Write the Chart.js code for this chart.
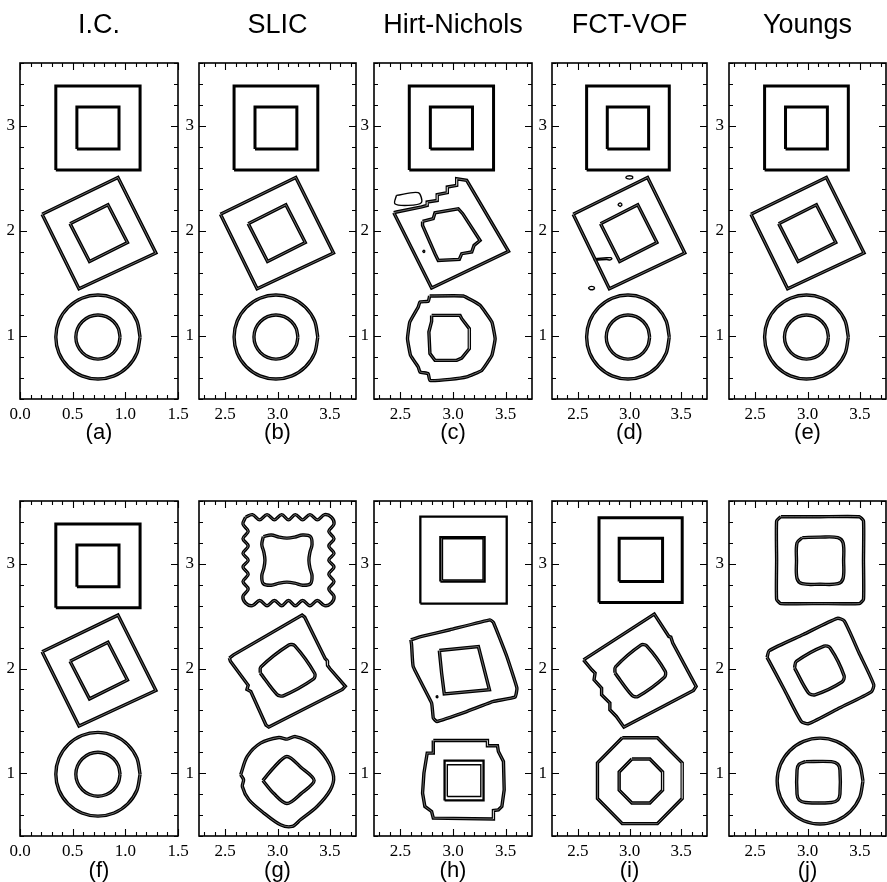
<!DOCTYPE html>
<html><head><meta charset="utf-8">
<script src="https://cdn.jsdelivr.net/npm/chart.js@4/dist/chart.umd.min.js"></script>
<style>
html,body{margin:0;padding:0;background:#fff;overflow:hidden;width:887px;height:882px;}
#wrap{position:relative;width:887px;height:882px;overflow:hidden;}
canvas{position:absolute;}
</style></head><body><div id="wrap"></div>
<script>
// ---------- text ----------
const methodTitles = ['I.C.', 'SLIC', 'Hirt-Nichols', 'FCT-VOF', 'Youngs'];
const panelLetters = ['(a)','(b)','(c)','(d)','(e)','(f)','(g)','(h)','(i)','(j)'];
// ---------- axes ----------
const xTickLabelsLeft = [0.0, 0.5, 1.0, 1.5];
const xTickLabelsRight = [2.5, 3.0, 3.5];
const yTickLabels = [1, 2, 3];
const xRangeLeft = [0, 1.5];
const xRangeRight = [2.25, 3.75];
const yRange = [0.4, 3.6];

// ---------- initial condition shapes (x = offset from column centre, y absolute) ----------
const icCentreX = [0.74, 2.985, 2.985, 2.985, 2.99, 0.74]; // panels a..f
const icSquareOuter = [[-0.40,2.58],[0.40,2.58],[0.40,3.38],[-0.40,3.38]];
const icSquareInner = [[-0.20,2.78],[0.20,2.78],[0.20,3.18],[-0.20,3.18]];
const icTiltOuter = [[-0.53,2.16],[0.19,2.51],[0.55,1.79],[-0.18,1.45]];
const icTiltInner = [[-0.265,2.07],[0.095,2.25],[0.28,1.89],[-0.08,1.71]];
const icRingOuter = [[0.40,0.99],[0.37,1.143],[0.283,1.273],[0.153,1.36],[0,1.39],[-0.153,1.36],[-0.283,1.273],[-0.37,1.143],[-0.40,0.99],[-0.37,0.837],[-0.283,0.707],[-0.153,0.62],[0,0.59],[0.153,0.62],[0.283,0.707],[0.37,0.837]];
const icRingInner = [[0.21,0.99],[0.194,1.07],[0.148,1.138],[0.08,1.184],[0,1.20],[-0.08,1.184],[-0.148,1.138],[-0.194,1.07],[-0.21,0.99],[-0.194,0.91],[-0.148,0.842],[-0.08,0.796],[0,0.78],[0.08,0.796],[0.148,0.842],[0.194,0.91]];

// ---------- (c) Hirt-Nichols, first time ----------
const hnTiltOuter = [[2.438,2.174],[2.797,1.457],[3.527,1.806],[3.130,2.482],[3.035,2.498],[3.035,2.434],[2.946,2.419],[2.946,2.365],[2.850,2.346],[2.850,2.291],[2.755,2.276],[2.755,2.244],[2.702,2.229],[2.464,2.181]];
const hnTiltLoop = [[2.463,2.339],[2.67,2.365],[2.70,2.27],[2.574,2.244],[2.448,2.26]];
const hnTiltInner = [[2.711,2.091],[2.812,2.117],[2.829,2.174],[3.050,2.212],[3.092,2.165],[3.257,1.910],[3.200,1.863],[3.178,1.800],[3.083,1.784],[3.060,1.730],[2.860,1.720],[2.829,1.784],[2.711,2.053]];
const hnTiltDot = [[2.735,1.806],[2.724,1.817],[2.713,1.806],[2.724,1.795]];
const hnRingOuter = [[2.778,1.381],[3.098,1.381],[3.257,1.292],[3.369,1.133],[3.40,0.974],[3.369,0.815],[3.273,0.672],[3.13,0.61],[2.971,0.587],[2.78,0.577],[2.765,0.641],[2.686,0.657],[2.67,0.705],[2.597,0.815],[2.568,0.974],[2.59,1.133],[2.67,1.276],[2.686,1.324],[2.765,1.33]];
const hnRingInner = [[2.797,1.196],[3.067,1.196],[3.083,1.165],[3.155,1.07],[3.155,0.879],[3.083,0.79],[3.035,0.768],[2.829,0.768],[2.781,0.832],[2.771,1.038],[2.797,1.139]];

// ---------- (d) FCT-VOF, first time: extra debris ----------
const fctBlobTop = [[3.035,2.51],[3.022,2.522],[3.0,2.526],[2.978,2.522],[2.965,2.51],[2.978,2.498],[3.0,2.494],[3.022,2.498]];
const fctBlobLow = [[2.664,1.457],[2.652,1.469],[2.634,1.473],[2.616,1.469],[2.604,1.457],[2.616,1.445],[2.634,1.441],[2.652,1.445]];
const fctKnot = [[2.93,2.25],[2.91,2.268],[2.89,2.25],[2.91,2.234]];
const fctFilament = [[2.66,1.736],[2.78,1.745],[2.82,1.746],[2.83,1.735],[2.81,1.724],[2.78,1.728],[2.66,1.724]];

// ---------- (g) SLIC, second time ----------
const slicSquareOuter = [[2.695,3.445],[2.76,3.47],[2.83,3.42],[2.90,3.47],[2.97,3.42],[3.04,3.47],[3.105,3.42],[3.17,3.47],[3.24,3.42],[3.31,3.47],[3.38,3.42],[3.45,3.47],
 [3.515,3.445],[3.54,3.38],[3.49,3.31],[3.54,3.24],[3.49,3.17],[3.54,3.10],[3.49,3.035],[3.54,2.97],[3.49,2.90],[3.54,2.83],[3.49,2.76],[3.54,2.69],
 [3.515,2.625],[3.45,2.60],[3.38,2.65],[3.31,2.60],[3.24,2.65],[3.17,2.60],[3.105,2.65],[3.04,2.60],[2.97,2.65],[2.90,2.60],[2.83,2.65],[2.76,2.60],
 [2.695,2.625],[2.67,2.69],[2.72,2.76],[2.67,2.83],[2.72,2.90],[2.67,2.97],[2.72,3.035],[2.67,3.10],[2.72,3.17],[2.67,3.24],[2.72,3.31],[2.67,3.38]];
const slicSquareInner = [[2.865,3.26],[2.94,3.275],[3.015,3.255],[3.09,3.245],[3.165,3.255],[3.24,3.275],
 [3.315,3.26],[3.33,3.185],[3.31,3.11],[3.30,3.035],[3.31,2.96],[3.33,2.885],
 [3.315,2.81],[3.24,2.795],[3.165,2.815],[3.09,2.825],[3.015,2.815],[2.94,2.795],
 [2.865,2.81],[2.85,2.885],[2.87,2.96],[2.88,3.035],[2.87,3.11],[2.85,3.185]];
const slicTiltOuter = [[2.54,2.10],[2.58,2.13],[3.235,2.51],[3.26,2.49],[3.455,2.095],[3.475,2.075],[3.478,2.03],[3.50,2.00],[3.648,1.83],[3.62,1.80],[2.917,1.44],[2.89,1.46],[2.745,1.78],[2.708,1.80],[2.72,1.84],[2.55,2.07]];
const slicTiltInner = [[2.835,1.958],[2.841,2.015],[3.109,2.225],[3.164,2.218],[3.356,1.952],[3.345,1.901],[3.055,1.739],[2.995,1.752]];
const slicRingOuter = [[2.648,0.985],[2.711,1.16],[2.838,1.287],[3.013,1.341],[3.092,1.325],[3.171,1.35],[3.346,1.271],[3.473,1.128],[3.536,0.968],[3.505,0.841],[3.378,0.682],[3.219,0.555],[3.14,0.491],[3.029,0.507],[2.87,0.619],[2.727,0.746],[2.664,0.873],[2.676,0.937]];
const slicRingInner = [[2.86,0.93],[2.965,1.055],[3.09,1.16],[3.225,1.055],[3.35,0.93],[3.225,0.805],[3.09,0.71],[2.965,0.805]];

// ---------- (h) Hirt-Nichols, second time ----------
const hn2SquareOuter = [[2.69,2.62],[3.51,2.62],[3.51,3.45],[2.69,3.45]];
const hn2SquareInner = [[2.88,2.83],[3.30,2.83],[3.30,3.255],[2.88,3.255]];
const hn2SquareInner2 = [[2.90,2.845],[3.285,2.845],[3.285,3.24],[2.90,3.24]];
const hn2TiltOuter = [[2.60,2.274],[2.702,2.306],[2.971,2.37],[3.352,2.465],[3.384,2.44],[3.511,2.115],[3.607,1.813],[3.59,1.727],[3.384,1.685],[3.13,1.589],[2.845,1.494],[2.813,1.526],[2.797,1.67],[2.622,2.019],[2.607,2.226]];
const hn2TiltInner = [[2.870,2.172],[3.241,2.21],[3.346,1.797],[2.917,1.758],[2.892,1.956]];
const hn2Dot = [[2.86,1.73],[2.85,1.74],[2.84,1.73],[2.85,1.72]];
const hn2RingOuter = [[2.813,1.312],[3.327,1.312],[3.327,1.262],[3.422,1.262],[3.431,1.207],[3.479,1.112],[3.486,0.841],[3.464,0.682],[3.431,0.650],[3.384,0.644],[3.384,0.562],[2.813,0.571],[2.797,0.634],[2.733,0.682],[2.711,0.81],[2.724,1.001],[2.755,1.192],[2.813,1.192]];
const hn2RingInner = [[2.92,0.74],[3.29,0.74],[3.29,1.12],[2.92,1.12]];
const hn2RingInner2 = [[2.946,0.778],[3.264,0.778],[3.264,1.08],[2.946,1.08]];

// ---------- (i) FCT-VOF, second time ----------
const fct2SquareOuter = [[2.705,2.63],[3.51,2.63],[3.51,3.44],[2.705,3.44]];
const fct2SquareInner = [[2.90,2.83],[3.32,2.83],[3.32,3.245],[2.90,3.245]];
const fct2TiltOuter = [[2.555,2.083],[3.24,2.52],[3.381,2.306],[3.40,2.30],[3.419,2.243],[3.645,1.828],[3.619,1.79],[2.946,1.44],[2.873,1.542],[2.81,1.606],[2.81,1.67],[2.73,1.749],[2.73,1.813],[2.657,1.892],[2.667,1.956],[2.635,1.988]];
const fct2TiltInner = [[2.859,1.958],[2.865,2.016],[3.110,2.224],[3.164,2.218],[3.346,1.972],[3.338,1.917],[3.082,1.733],[3.026,1.742]];
const fct2RingOuter = [[2.93,1.338],[3.27,1.338],[3.51,1.098],[3.51,0.758],[3.27,0.518],[2.93,0.518],[2.69,0.758],[2.69,1.098]];
const fct2RingInner = [[3.023,1.135],[3.197,1.135],[3.32,1.012],[3.32,0.838],[3.197,0.715],[3.023,0.715],[2.90,0.838],[2.90,1.012]];

// ---------- (j) Youngs, second time ----------
const yg2SquareOuter = [[2.745,3.45],[3.12,3.45],[3.495,3.45],[3.535,3.41],[3.535,3.035],[3.535,2.66],[3.495,2.62],[3.12,2.62],[2.745,2.62],[2.705,2.66],[2.705,3.035],[2.705,3.41]];
const yg2SquareInner = [[2.95,3.25],[3.12,3.255],[3.29,3.25],[3.34,3.20],[3.345,3.03],[3.34,2.86],[3.29,2.81],[3.12,2.805],[2.95,2.81],[2.90,2.86],[2.895,3.03],[2.90,3.20]];
const yg2TiltOuter = [[2.614,2.106],[2.635,2.171],[2.96,2.325],[3.285,2.479],[3.351,2.455],[3.492,2.15],[3.633,1.845],[3.609,1.777],[3.31,1.625],[3.010,1.473],[2.941,1.494],[2.778,1.80]];
const yg2TiltInner = [[2.876,2.006],[2.893,2.067],[3.158,2.214],[3.217,2.196],[3.350,1.930],[3.329,1.871],[3.071,1.749],[3.008,1.769]];
const yg2RingOuter = [[3.53,0.925],[3.499,1.082],[3.41,1.215],[3.277,1.304],[3.12,1.335],[2.963,1.304],[2.83,1.215],[2.741,1.082],[2.71,0.925],[2.741,0.768],[2.83,0.635],[2.963,0.546],[3.12,0.515],[3.277,0.546],[3.41,0.635],[3.499,0.768]];
const yg2RingInner = [[2.98,1.11],[3.23,1.11],[3.29,1.085],[3.31,1.03],[3.31,0.80],[3.29,0.745],[3.23,0.72],[2.98,0.72],[2.92,0.745],[2.90,0.80],[2.90,1.03],[2.92,1.085]];

// ---------- assemble ----------
function shift(shape, cx){ return shape.map(p => [cx + p[0], p[1]]); }
function icSet(cx){
  return [
    [shift(icSquareOuter,cx),'solid',0],
    [shift(icSquareInner,cx),'solid',0],
    [shift(icTiltOuter,cx),'double',0],
    [shift(icTiltInner,cx),'double',0],
    [shift(icRingOuter,cx),'double',0.3],
    [shift(icRingInner,cx),'double',0.3]
  ];
}
const panelContours = [
  icSet(icCentreX[0]),
  icSet(icCentreX[1]),
  [[shift(icSquareOuter,icCentreX[2]),'solid',0],[shift(icSquareInner,icCentreX[2]),'solid',0],
   [hnTiltOuter,'double',0],[hnTiltLoop,'thin',0.3],[hnTiltInner,'double',0],[hnTiltDot,'thin',0.3],
   [hnRingOuter,'double',0.1],[hnRingInner,'double',0]],
  icSet(icCentreX[3]).concat([[fctBlobTop,'thin',0.3],[fctBlobLow,'thin',0.3],[fctKnot,'thin',0.3],[fctFilament,'thin',0.2]]),
  icSet(icCentreX[4]),
  icSet(icCentreX[5]),
  [[slicSquareOuter,'double',0.35],[slicSquareInner,'double',0.35],[slicTiltOuter,'double',0],[slicTiltInner,'double',0.3],
   [slicRingOuter,'double',0.3],[slicRingInner,'double',0.3]],
  [[hn2SquareOuter,'medium',0],[hn2SquareInner,'medium',0],[hn2SquareInner2,'thin',0],[hn2TiltOuter,'double',0.1],
   [hn2TiltInner,'double',0],[hn2Dot,'thin',0.3],[hn2RingOuter,'double',0],[hn2RingInner,'medium',0],[hn2RingInner2,'thin',0]],
  [[fct2SquareOuter,'solid',0],[fct2SquareInner,'solid',0],[fct2TiltOuter,'double',0],[fct2TiltInner,'double',0.3],
   [fct2RingOuter,'double',0],[fct2RingInner,'double',0]],
  [[yg2SquareOuter,'double',0.15],[yg2SquareInner,'double',0.35],[yg2TiltOuter,'double',0.2],[yg2TiltInner,'double',0.3],
   [yg2RingOuter,'double',0.3],[yg2RingInner,'double',0.3]]
];

// ---------- layout (pixels) ----------
const plotLeft = [20,199,374,552,729];
const plotWidth = [158,157,158,155,157];
const sideW = 22;

const frameTicks = {
  id:'frameTicks',
  afterDraw(chart){
    const {ctx, chartArea:a, scales:{x,y}} = chart;
    ctx.save();
    ctx.strokeStyle='#000';
    ctx.lineWidth=1.6;
    ctx.strokeRect(a.left, a.top, a.right-a.left, a.bottom-a.top);
    ctx.lineWidth=1.1;
    ctx.beginPath();
    for (let k=Math.ceil(x.min*10-1e-6); k<=Math.floor(x.max*10+1e-6); k++){
      const px = Math.round(x.getPixelForValue(k/10))+0.5;
      const len = (k%5===0)?7:4;
      ctx.moveTo(px,a.bottom); ctx.lineTo(px,a.bottom-len);
      ctx.moveTo(px,a.top); ctx.lineTo(px,a.top+len);
    }
    for (let k=Math.ceil(y.min*5-1e-6); k<=Math.floor(y.max*5+1e-6); k++){
      const py = Math.round(y.getPixelForValue(k/5))+0.5;
      const len = (k%5===0)?7:4;
      ctx.moveTo(a.left,py); ctx.lineTo(a.left+len,py);
      ctx.moveTo(a.right,py); ctx.lineTo(a.right-len,py);
    }
    ctx.stroke();
    ctx.restore();
  }
};

const sans = '"Liberation Sans", Arial, Helvetica, sans-serif';
const serif = '"Liberation Serif", "Times New Roman", serif';

const wrap = document.getElementById('wrap');
for (let i=0;i<10;i++){
  const row = Math.floor(i/5), col = i%5;
  const leftCol = (col===0);
  const cv = document.createElement('canvas');
  const w = sideW + plotWidth[col] + sideW;
  const h = row===0 ? 450 : 432;
  cv.width = w; cv.height = h;
  cv.style.left = (plotLeft[col]-sideW)+'px';
  cv.style.top = (row===0 ? 0 : 450)+'px';
  cv.style.width = w+'px'; cv.style.height = h+'px';
  wrap.appendChild(cv);

  const datasets = [];
  panelContours[i].forEach(([pts, style, tension]) => {
    const data = pts.concat([pts[0]]).map(p => ({x:p[0], y:p[1]}));
    const bw = style==='thin' ? 1.4 : (style==='medium' ? 2.3 : (style==='double' ? 3.4 : 3.0));
    datasets.push({data, showLine:true, pointRadius:0, borderColor:'#000', borderWidth:bw, tension, fill:false, order:2});
    if (style==='double'){
      datasets.push({data, showLine:true, pointRadius:0, borderColor:'rgba(255,255,255,0.7)', borderWidth:0.6, tension, fill:false, order:1});
    }
  });

  const xr = leftCol ? xRangeLeft : xRangeRight;
  const xt = leftCol ? xTickLabelsLeft : xTickLabelsRight;

  new Chart(cv, {
    type:'scatter',
    data:{datasets},
    options:{
      responsive:false, animation:false, devicePixelRatio:1,
      layout:{padding:{top: row===0?0:51, right:0, left:0, bottom:0}},
      plugins:{
        legend:{display:false}, tooltip:{enabled:false},
        title:{display: row===0, text: methodTitles[col], color:'#000',
               font:{family:sans, size:27, weight:'normal', lineHeight:1.2},
               padding:{top:9, bottom:21.6}}
      },
      scales:{
        x:{type:'linear', min:xr[0], max:xr[1], position:'bottom',
           afterFit(s){ s.height = row===0 ? 51 : 46; },
           afterBuildTicks(s){ s.ticks = xt.map(v=>({value:v})); },
           ticks:{autoSkip:false, maxRotation:0, minRotation:0, padding:5, color:'#000',
                  font:{family:serif, size:17}, callback:(v)=>Number(v).toFixed(1)},
           grid:{display:false, drawTicks:false}, border:{display:false},
           title:{display:true, text:panelLetters[i], color:'#000',
                  font:{family:sans, size:22, weight:'normal', lineHeight: row===0 ? 1.2 : 1.0},
                  padding:{top:0, bottom: row===0 ? 4 : 0}}
        },
        y:{type:'linear', min:yRange[0], max:yRange[1], position:'left',
           afterFit(s){ s.width = sideW; },
           afterBuildTicks(s){ s.ticks = yTickLabels.map(v=>({value:v})); },
           ticks:{autoSkip:false, padding:5, color:'#000', font:{family:serif, size:17},
                  callback:(v)=>String(v)},
           grid:{display:false, drawTicks:false}, border:{display:false}
        },
        yRight:{type:'linear', min:yRange[0], max:yRange[1], position:'right',
           afterFit(s){ s.width = sideW; },
           ticks:{display:false}, grid:{display:false, drawTicks:false}, border:{display:false}
        }
      }
    },
    plugins:[frameTicks]
  });
}
</script></body></html>
